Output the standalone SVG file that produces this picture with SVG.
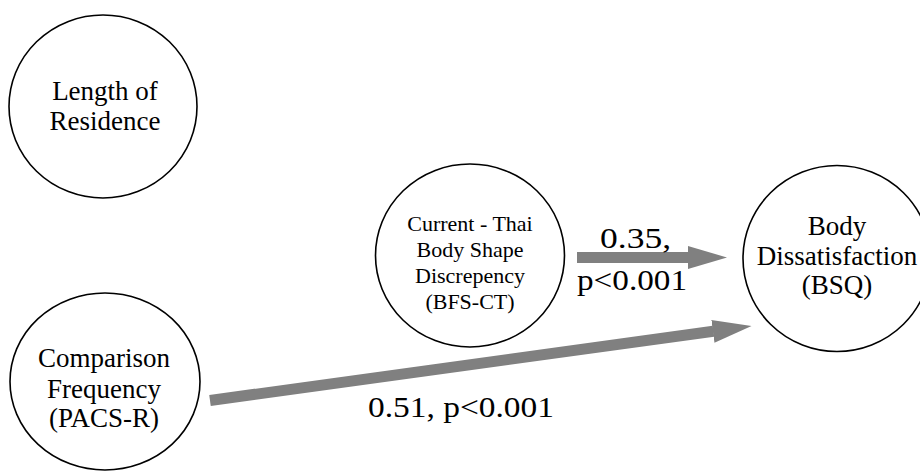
<svg xmlns="http://www.w3.org/2000/svg" width="920" height="472" viewBox="0 0 920 472">
<style>
.node{fill:#fff;stroke:#000;stroke-width:1.6}
.t{font-family:'Liberation Serif',Tinos,'Times New Roman',Times,'Noto Serif','DejaVu Serif',serif;fill:#000;text-anchor:middle}
.big{font-size:27px}
.small{font-size:22px}
.lab{font-family:'Liberation Serif',Tinos,'Times New Roman',Times,'Noto Serif','DejaVu Serif',serif;fill:#000;font-size:29px}
.edge{stroke:#808080;stroke-width:11;fill:none}
</style>
<defs>
<marker id="ah" markerUnits="userSpaceOnUse" viewBox="0 0 39 23" markerWidth="39" markerHeight="23" refX="0.5" refY="11.5" orient="auto">
<path d="M0,0 L39,11.5 L0,23 z" fill="#808080"/>
</marker>
</defs>
<rect width="920" height="472" fill="#fff"/>
<g id="connectors">
<line class="edge" x1="577" y1="257.5" x2="688.5" y2="257.5" marker-end="url(#ah)"/>
<line class="edge" x1="210" y1="400.5" x2="713.4" y2="331.3" marker-end="url(#ah)"/>
<text class="lab" x="600" y="248" textLength="71" lengthAdjust="spacingAndGlyphs">0.35,</text>
<text class="lab" x="577" y="290" textLength="110" lengthAdjust="spacingAndGlyphs">p&lt;0.001</text>
<text class="lab" x="368" y="417" textLength="186" lengthAdjust="spacingAndGlyphs">0.51, p&lt;0.001</text>
</g>
<g id="length">
<ellipse class="node" cx="103" cy="106.5" rx="94" ry="91.5"/>
<text class="t big" x="105" y="100">Length of</text>
<text class="t big" x="105" y="130">Residence</text>
</g>
<g id="current">
<ellipse class="node" cx="470" cy="255.5" rx="94.5" ry="91.5"/>
<text class="t small" x="470" y="230.5">Current - Thai</text>
<text class="t small" x="470" y="256.5">Body Shape</text>
<text class="t small" x="470" y="283">Discrepency</text>
<text class="t small" x="470" y="309">(BFS-CT)</text>
</g>
<g id="body">
<ellipse class="node" cx="837" cy="258.5" rx="94" ry="93"/>
<text class="t big" x="837" y="235">Body</text>
<text class="t big" x="837" y="265">Dissatisfaction</text>
<text class="t big" x="837" y="294">(BSQ)</text>
</g>
<g id="comparison">
<ellipse class="node" cx="105" cy="381.5" rx="95" ry="88.5"/>
<text class="t big" x="104" y="367">Comparison</text>
<text class="t big" x="104" y="398">Frequency</text>
<text class="t big" x="104" y="427">(PACS-R)</text>
</g>
</svg>
